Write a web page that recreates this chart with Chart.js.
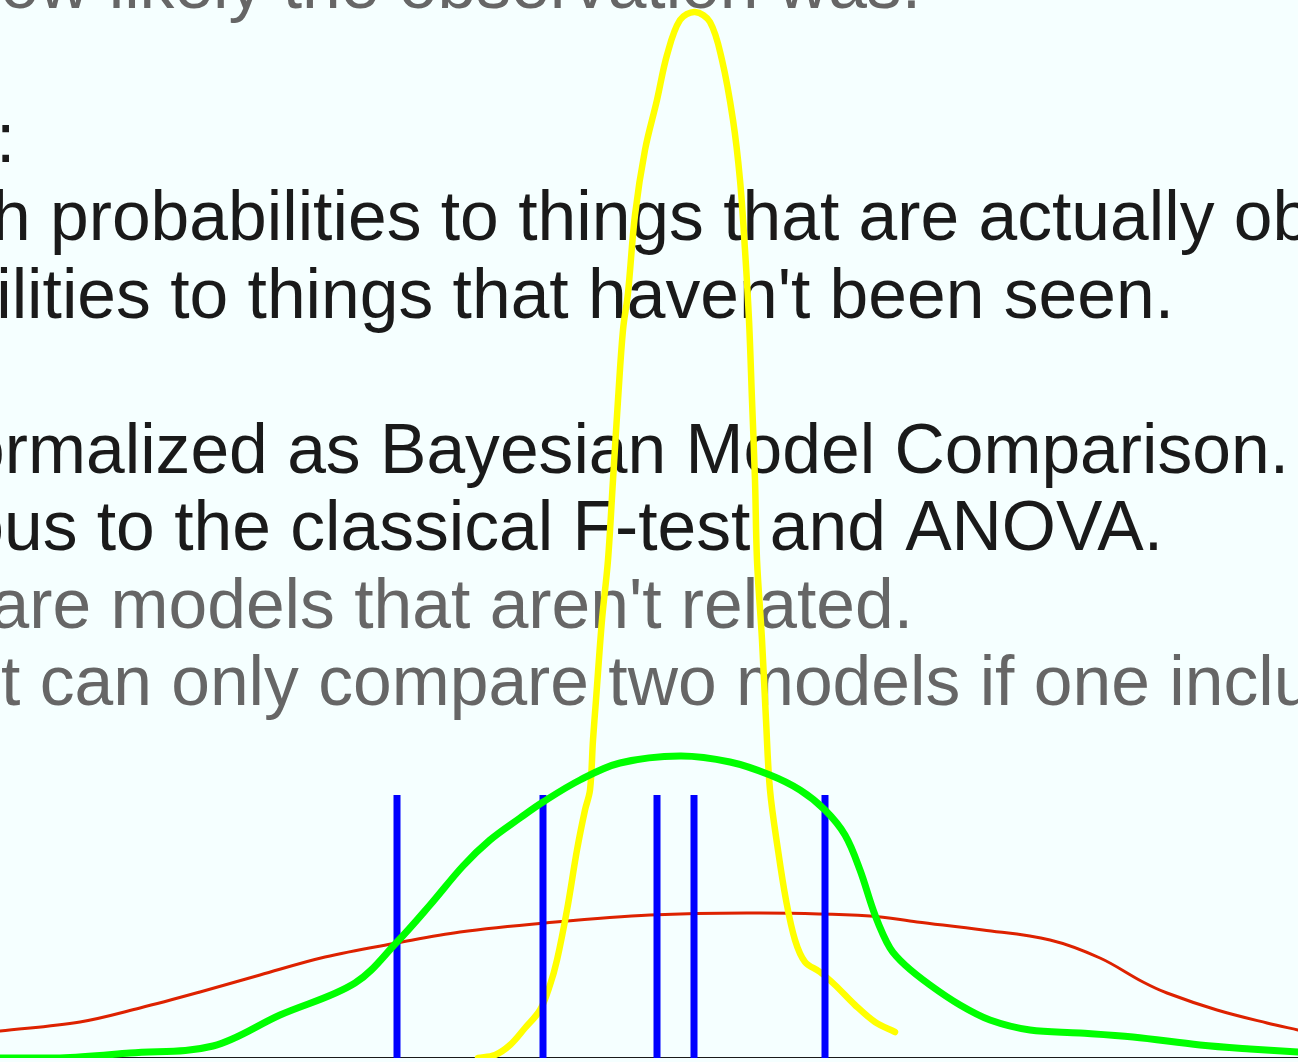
<!DOCTYPE html>
<html>
<head>
<meta charset="utf-8">
<script src="https://cdn.jsdelivr.net/npm/chart.js@4.4.1/dist/chart.umd.min.js"></script>
<style>
  html, body { margin: 0; padding: 0; background: #f5ffff; overflow: hidden; }
  canvas { display: block; }
</style>
</head>
<body>
<canvas id="slide" width="1298" height="1062"></canvas>
<script>
// parameter axis runs 0..129.8, density axis 0..105.8
const X_MIN = 0, X_MAX = 129.8;
const Y_MAX = 105.8;

// narrow posterior (yellow)
const posteriorX = [47.8, 49.5, 51.0, 52.5, 54.0, 55.0, 55.7, 56.7, 57.7, 58.5, 59.0, 59.3, 59.6, 60.2, 60.8, 61.3, 61.8, 62.3, 62.8, 63.5, 64.5, 65.7, 66.7, 68.0, 69.5, 71.0, 72.2, 73.3, 74.0, 74.5, 74.9, 75.2, 75.5, 75.7, 76.2, 76.6, 77.0, 77.8, 78.6, 79.5, 80.5, 82.0, 83.5, 85.5, 87.5, 89.5];
const posteriorY = [0.0, 0.3, 1.3, 3.0, 4.8, 7.3, 9.8, 14.8, 20.8, 24.8, 26.8, 31.8, 35.8, 43.8, 49.8, 57.8, 65.8, 72.8, 76.5, 84.3, 90.8, 95.8, 100.3, 103.8, 104.6, 103.6, 99.8, 93.8, 87.8, 80.8, 73.8, 65.8, 57.8, 49.8, 41.8, 33.8, 26.8, 20.8, 15.8, 11.8, 9.6, 8.6, 7.3, 5.3, 3.6, 2.6];

// moderate fit (green)
const fitX = [0, 6, 13, 21.3, 28, 35.5, 39.7, 43, 46.3, 49, 52, 54.3, 58, 62, 68, 73, 77, 80, 82.5, 84.5, 86, 87.5, 89, 90.5, 93, 96, 99, 103, 108, 113.3, 120, 125, 129.8];
const fitY = [0.0, 0.0, 0.5, 1.2, 4.3, 7.5, 11.6, 15.3, 19.2, 21.8, 24.0, 25.6, 27.8, 29.5, 30.2, 29.6, 28.3, 26.8, 24.8, 22.3, 18.8, 14.3, 11.0, 9.3, 7.3, 5.3, 3.8, 2.8, 2.5, 2.1, 1.3, 0.9, 0.6];

// broad prior (red)
const priorX = [0, 8, 14, 20, 26, 32.5, 39.7, 46, 54.5, 65, 76, 87, 91.7, 98.3, 105, 110, 114.3, 116.7, 121.7, 126.7, 129.8];
const priorY = [2.7, 3.6, 5.0, 6.6, 8.3, 10.1, 11.5, 12.6, 13.5, 14.3, 14.5, 14.2, 13.6, 12.8, 11.8, 10.0, 7.6, 6.5, 4.8, 3.5, 2.8];

// observations (blue ticks) and their height
const obsX = [39.7, 54.3, 65.7, 69.4, 82.5];
const obsHeight = 26.3;

// slide text, top to bottom
const slideLines = [
  'how likely the observation was.',
  ':',
  'h probabilities to things that are actually observed',
  'ilities to things that haven\'t been seen.',
  'ormalized as Bayesian Model Comparison.',
  'ous to the classical F-test and ANOVA.',
  'pare models that aren\'t related.',
  't can only compare two models if one includes'
];
const slideMuted = [true, false, false, false, false, false, true, true];

function pts(xs, ys) {
  return xs.map((x, i) => ({ x: x, y: ys[i] }));
}

// text layout: [align, x, baseline]
const textPos = [
  ['right', 921, 8],
  ['left', -4, 162],
  ['left', -8, 240],
  ['right', 1174, 318],
  ['right', 1289, 473],
  ['right', 1163, 550],
  ['right', 913, 628],
  ['left', 1, 705]
];

const slideText = {
  id: 'slideText',
  beforeDraw(chart) {
    const ctx = chart.ctx;
    ctx.save();
    ctx.fillStyle = '#f5ffff';
    ctx.fillRect(0, 0, chart.width, chart.height);
    ctx.restore();
  },
  beforeDatasetsDraw(chart) {
    const ctx = chart.ctx;
    ctx.save();
    ctx.font = '69.6px "Liberation Sans", Arial, sans-serif';
    ctx.textBaseline = 'alphabetic';
    slideLines.forEach((line, i) => {
      const [align, x, y] = textPos[i];
      ctx.textAlign = align;
      ctx.fillStyle = slideMuted[i] ? '#666666' : '#1a1a1a';
      ctx.fillText(line, x, y);
    });
    ctx.restore();
  }
};

const lineStyle = { pointRadius: 0, fill: false, borderCapStyle: 'round', borderJoinStyle: 'round' };

// first dataset ends up on top
const datasets = [];
datasets.push(Object.assign({
  data: pts(fitX, fitY), borderColor: '#00ff00', borderWidth: 7, tension: 0.35
}, lineStyle));
obsX.forEach(x => {
  datasets.push(Object.assign({
    data: [{ x: x, y: 0 }, { x: x, y: obsHeight }],
    borderColor: '#0000ff', borderWidth: 7, tension: 0
  }, lineStyle, { borderCapStyle: 'butt' }));
});
datasets.push(Object.assign({
  data: pts(posteriorX, posteriorY), borderColor: '#ffff00', borderWidth: 6.5, tension: 0.35
}, lineStyle));
datasets.push(Object.assign({
  data: pts(priorX, priorY), borderColor: '#dd2200', borderWidth: 3, tension: 0.35
}, lineStyle));
datasets.push(Object.assign({
  data: [{ x: X_MIN, y: 0 }, { x: X_MAX, y: 0 }], borderColor: '#1a1a1a', borderWidth: 2, tension: 0
}, lineStyle));

new Chart(document.getElementById('slide').getContext('2d'), {
  type: 'line',
  data: { datasets: datasets },
  options: {
    responsive: false,
    animation: false,
    layout: { padding: { left: 0, right: 0, top: 0, bottom: 4 } },
    scales: {
      x: { type: 'linear', min: X_MIN, max: X_MAX, display: false },
      y: { type: 'linear', min: 0, max: Y_MAX, display: false }
    },
    plugins: {
      legend: { display: false },
      tooltip: { enabled: false }
    }
  },
  plugins: [slideText]
});
</script>
</body>
</html>
